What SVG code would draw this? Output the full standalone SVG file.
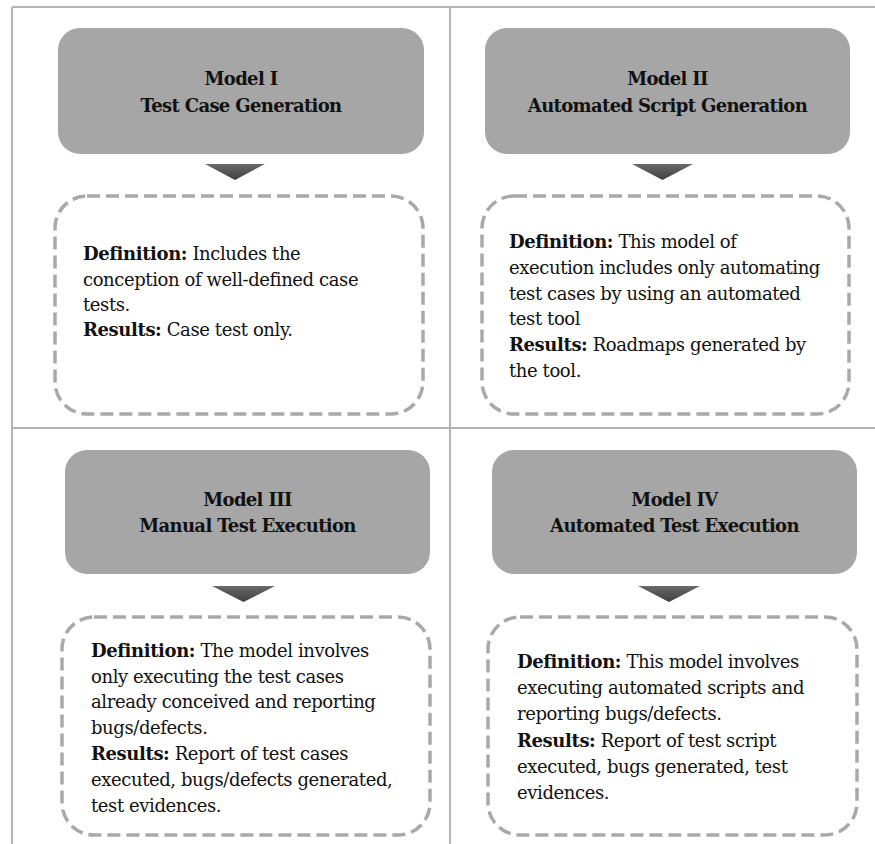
<svg xmlns="http://www.w3.org/2000/svg" width="875" height="844" viewBox="0 0 875 844">
<style>
.frame{stroke:#b4b4b4;stroke-width:2;fill:none}
.head{fill:#a6a6a6}
.arrow{fill:url(#ag)}
.card{fill:#ffffff;stroke:#a9a9a9;stroke-width:3.5;stroke-dasharray:13 6}
.title{font-family:'DejaVu Serif','Liberation Serif',serif;font-size:18px;font-weight:bold;letter-spacing:-0.65px;fill:#111;text-anchor:middle}
.body{font-family:'DejaVu Serif','Liberation Serif',serif;font-size:18px;letter-spacing:-0.4px;fill:#111}
.b{font-weight:bold}
</style>
<defs>
<linearGradient id="ag" x1="0" y1="0" x2="0" y2="1">
<stop offset="0" stop-color="#6a6a6a"/>
<stop offset="1" stop-color="#3f3f3f"/>
</linearGradient>
</defs>
<rect width="875" height="844" fill="#ffffff"/>
<g id="frame">
<line class="frame" x1="12" y1="7" x2="875" y2="7"/>
<line class="frame" x1="12" y1="7" x2="12" y2="844"/>
<line class="frame" x1="450" y1="7" x2="450" y2="844"/>
<line class="frame" x1="12" y1="428" x2="875" y2="428"/>
</g>
<g id="connectors">
<polygon class="arrow" points="205,164 265,164 235,180"/>
<polygon class="arrow" points="632,164 693,164 662.5,180"/>
<polygon class="arrow" points="212,586 275,586 243.5,602"/>
<polygon class="arrow" points="638,586 700,586 669,602"/>
</g>
<g id="model1">
<rect class="head" x="58" y="28" width="366" height="126" rx="22"/>
<text class="title" x="241" y="85">Model I</text>
<text class="title" x="241" y="112">Test Case Generation</text>
</g>
<g id="card1">
<rect class="card" x="55" y="196" width="368" height="218" rx="32"/>
<text class="body" x="83" y="260"><tspan class="b">Definition:</tspan> Includes the</text>
<text class="body" x="83" y="286">conception of well-defined case</text>
<text class="body" x="83" y="311">tests.</text>
<text class="body" x="83" y="336"><tspan class="b">Results:</tspan> Case test only.</text>
</g>
<g id="model2">
<rect class="head" x="485" y="28" width="365" height="126" rx="22"/>
<text class="title" x="667.5" y="85">Model II</text>
<text class="title" x="667.5" y="112">Automated Script Generation</text>
</g>
<g id="card2">
<rect class="card" x="482" y="196" width="367" height="218" rx="32"/>
<text class="body" x="509" y="248"><tspan class="b">Definition:</tspan> This model of</text>
<text class="body" x="509" y="274">execution includes only automating</text>
<text class="body" x="509" y="300">test cases by using an automated</text>
<text class="body" x="509" y="325">test tool</text>
<text class="body" x="509" y="351"><tspan class="b">Results:</tspan> Roadmaps generated by</text>
<text class="body" x="509" y="377">the tool.</text>
</g>
<g id="model3">
<rect class="head" x="65" y="450" width="365" height="124" rx="22"/>
<text class="title" x="247.5" y="506">Model III</text>
<text class="title" x="247.5" y="532">Manual Test Execution</text>
</g>
<g id="card3">
<rect class="card" x="62" y="617" width="368" height="218" rx="32"/>
<text class="body" x="91" y="657"><tspan class="b">Definition:</tspan> The model involves</text>
<text class="body" x="91" y="683">only executing the test cases</text>
<text class="body" x="91" y="708">already conceived and reporting</text>
<text class="body" x="91" y="734">bugs/defects.</text>
<text class="body" x="91" y="760"><tspan class="b">Results:</tspan> Report of test cases</text>
<text class="body" x="91" y="786">executed, bugs/defects generated,</text>
<text class="body" x="91" y="812">test evidences.</text>
</g>
<g id="model4">
<rect class="head" x="492" y="450" width="365" height="124" rx="22"/>
<text class="title" x="674.5" y="506">Model IV</text>
<text class="title" x="674.5" y="532">Automated Test Execution</text>
</g>
<g id="card4">
<rect class="card" x="488" y="617" width="369" height="218" rx="32"/>
<text class="body" x="517" y="668"><tspan class="b">Definition:</tspan> This model involves</text>
<text class="body" x="517" y="694">executing automated scripts and</text>
<text class="body" x="517" y="720">reporting bugs/defects.</text>
<text class="body" x="517" y="747"><tspan class="b">Results:</tspan> Report of test script</text>
<text class="body" x="517" y="773">executed, bugs generated, test</text>
<text class="body" x="517" y="799">evidences.</text>
</g>
</svg>
